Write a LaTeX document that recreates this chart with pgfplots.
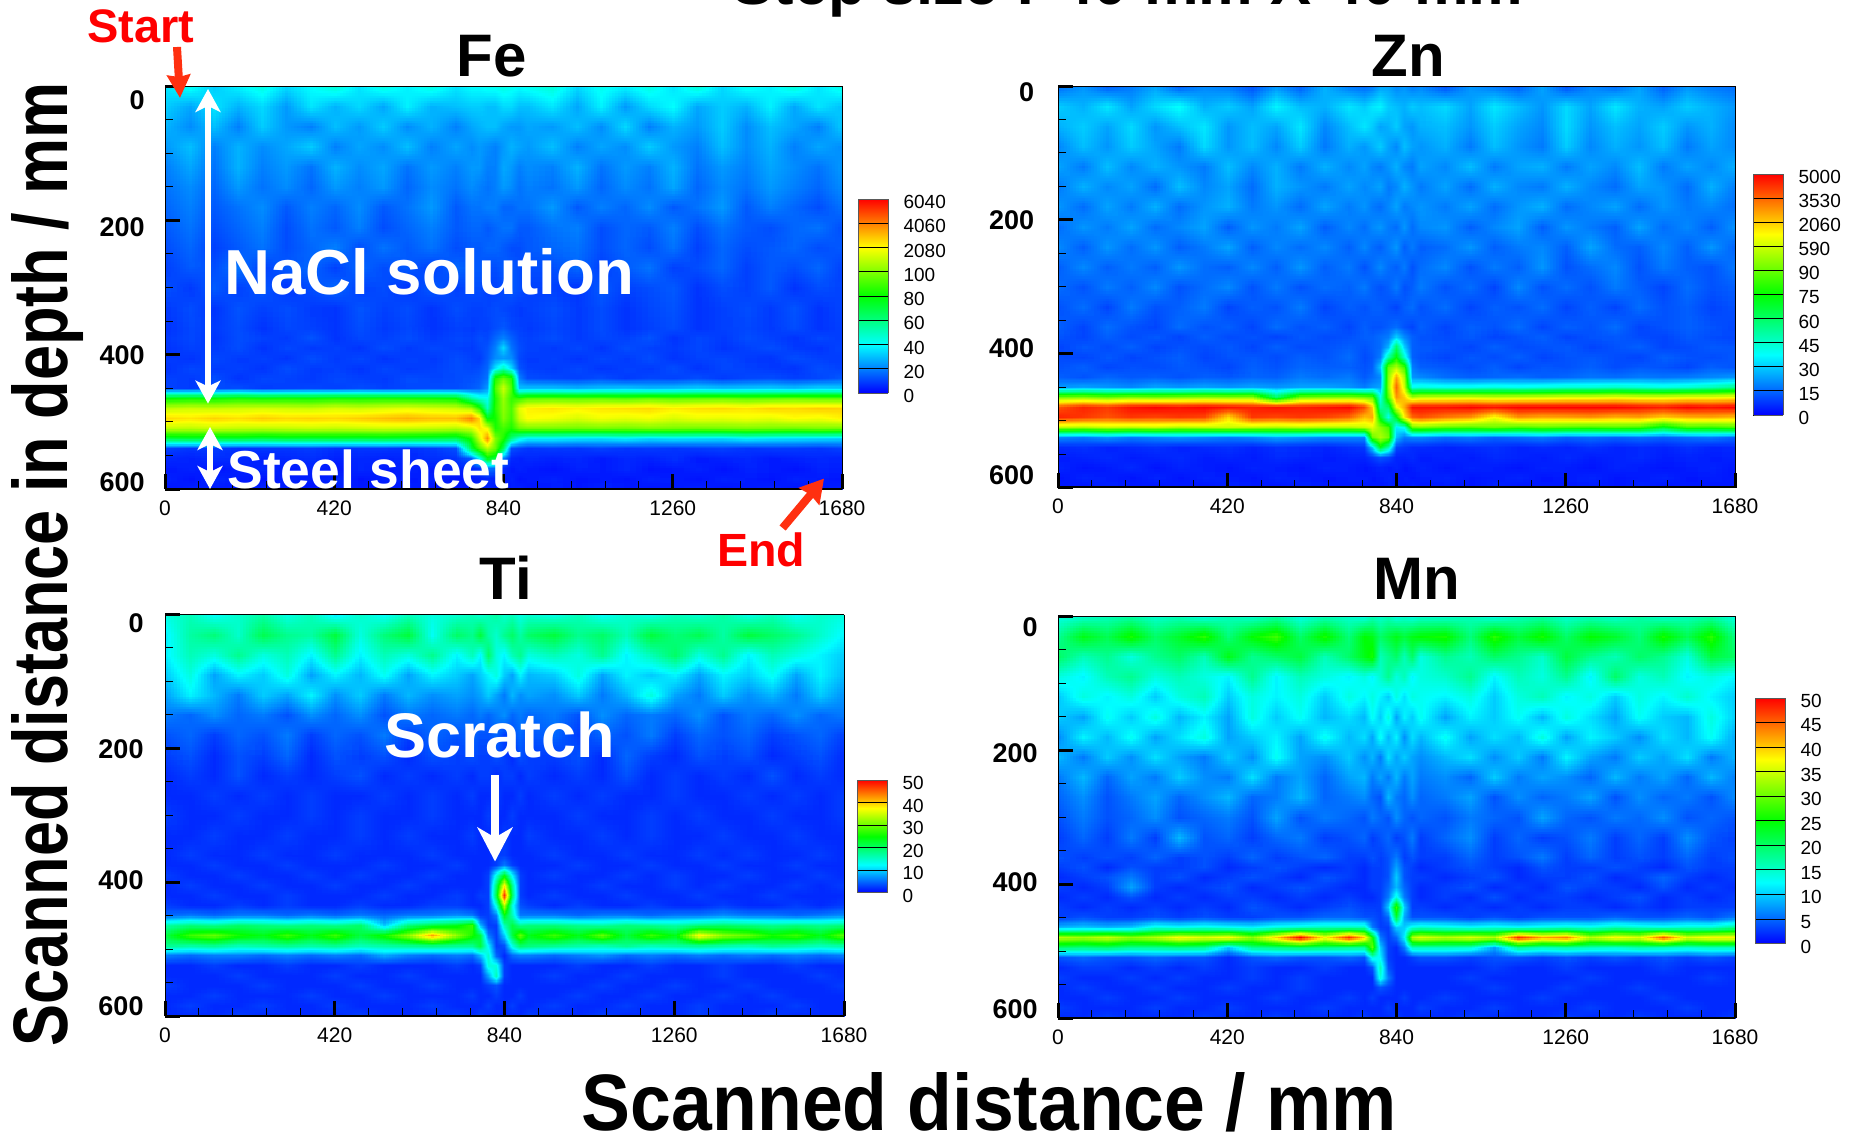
\documentclass[border=0pt]{standalone}
\usepackage{pgfplots}
\pgfplotsset{compat=1.18}
\usepgfplotslibrary{patchplots}
\usepackage{pgfplotstable}
\usepackage{fontspec}
\setmainfont{Liberation Sans}
\usetikzlibrary{arrows.meta}
\newcommand\loadgrid[2]{%
  \gdef\gridtmp{}%
  \foreach \v in {#2}{\xdef\gridtmp{\unexpanded\expandafter{\gridtmp}\v\space 0\space 0\noexpand\\}}%
  \edef\gridcmd{\noexpand\pgfplotstableread[row sep=crcr,header=false]{\unexpanded\expandafter{\gridtmp}}\noexpand#1}%
  \gridcmd}
% Columns x: 0..720 by 60, 760..900 by 20, 960..1680 by 60. Rows y: 0..360 by 30, 375..600 by 15.
\loadgrid\Fe{%
36,42,32,38,44,34,40,46,36,44,38,44,36,40,40,42,42,44,42,40,42,46,34,42,38,44,36,46,34,42,38,46,36,44,%
32,26,36,28,34,24,36,28,34,26,38,28,30,32,32,30,30,34,34,30,30,36,26,38,24,34,40,26,32,28,38,26,36,30,%
28,22,30,20,32,24,20,30,24,32,22,28,20,26,28,30,30,26,24,24,26,24,30,22,34,20,28,24,32,22,30,26,20,32,%
24,30,20,28,22,26,32,20,26,22,30,20,26,22,24,22,20,24,28,26,24,30,20,26,22,32,24,20,30,22,28,20,26,22,%
20,26,18,28,20,24,18,28,22,26,18,24,20,24,24,20,20,26,24,20,22,20,28,18,24,20,28,18,24,20,26,22,18,24,%
18,22,16,24,18,22,16,24,20,24,16,22,18,22,20,18,20,24,22,18,20,18,24,16,22,18,26,16,22,18,24,20,16,22,%
16,20,14,18,22,14,20,16,22,14,18,24,14,18,18,20,20,16,16,18,18,24,14,20,16,22,14,18,24,14,20,16,12,18,%
14,18,12,16,20,12,18,14,20,12,16,20,14,16,16,14,16,18,18,14,14,18,20,12,16,14,20,12,18,14,12,16,18,12,%
12,16,10,14,18,12,16,20,12,18,14,18,12,14,14,16,16,14,12,12,14,16,18,12,16,12,18,10,16,12,14,16,12,14,%
10,14,12,18,10,14,16,10,16,12,14,10,16,14,14,12,12,14,14,12,12,12,16,10,14,18,10,12,16,10,14,12,16,10,%
12,9,14,10,14,8,12,16,10,12,8,14,10,12,12,10,10,12,14,12,10,10,8,14,10,12,14,8,12,10,14,8,12,10,%
9,12,8,13,10,12,9,8,13,10,12,8,12,10,10,11,12,11,10,9,10,12,9,12,8,11,13,8,10,12,9,13,8,11,%
8,11,9,12,8,11,10,8,12,9,11,8,10,9,10,10,12,14,11,10,9,11,9,12,8,10,12,8,10,11,9,12,8,10,%
9,11,8,12,10,9,13,8,11,10,12,9,11,10,12,11,16,20,15,11,10,12,9,11,10,13,8,11,9,12,10,8,11,9,%
8,10,9,12,8,11,9,10,8,12,9,11,10,9,11,13,20,34,18,12,10,9,11,8,12,10,9,11,8,10,12,9,8,11,%
9,8,11,9,10,8,12,9,11,8,10,9,12,10,9,14,22,24,22,11,9,10,8,11,9,12,8,10,11,9,8,12,10,9,%
8,11,9,10,8,12,9,10,8,11,9,10,12,11,12,16,36,50,34,13,10,9,11,8,10,9,12,8,11,10,9,8,12,10,%
10,9,12,8,11,10,9,11,10,9,12,11,12,13,14,18,84,96,86,20,12,11,10,12,9,11,10,12,9,11,12,10,11,14,%
10,9,11,12,9,10,11,10,12,10,11,12,12,14,16,24,92,112,92,30,30,30,28,30,31,29,30,32,30,31,32,30,33,32,%
80,82,81,84,82,83,82,84,83,84,83,82,80,56,46,42,84,104,88,88,94,95,94,95,93,96,94,95,96,94,95,97,95,95,%
110,112,111,112,113,112,111,114,112,114,116,114,112,106,86,50,86,102,92,116,122,124,122,124,125,126,123,125,126,124,127,126,128,127,%
126,124,127,125,128,126,127,126,128,130,132,130,130,140,126,78,82,100,90,112,120,118,114,118,116,118,114,117,116,118,116,120,118,122,%
110,109,111,110,109,110,111,110,111,112,111,110,108,112,124,118,84,90,84,96,98,98,97,98,97,99,98,97,98,99,98,97,99,98,%
70,72,71,72,70,72,71,72,71,72,71,70,68,84,112,138,100,84,60,44,38,38,36,35,38,34,36,35,34,38,36,35,34,33,%
10,8,9,7,8,8,9,7,8,8,7,9,12,70,92,108,96,66,12,10,8,9,8,10,8,9,8,9,10,8,9,9,8,10,%
6,5,7,6,5,6,7,5,6,5,6,7,8,14,40,76,70,20,6,5,6,5,6,4,6,5,7,4,5,6,4,5,6,5,%
4,5,3,5,6,4,5,3,6,4,5,4,5,6,8,18,16,6,4,5,4,3,5,4,6,3,4,5,3,5,4,3,5,4,%
5,3,6,4,3,5,4,6,3,5,4,5,3,4,5,6,5,4,5,3,4,5,3,4,3,5,4,3,5,4,3,5,4,3,%
3,5,4,3,6,4,3,5,4,3,5,3,4,3,4,5,4,3,4,5,3,4,3,5,4,3,4,5,3,4,5,3,4,5}
\loadgrid\Zn{%
16,22,14,18,24,14,20,18,12,22,14,26,18,16,18,24,24,20,22,18,20,12,22,18,14,24,12,20,16,24,14,22,18,16,%
30,26,34,24,32,38,26,30,24,36,28,26,34,30,34,36,30,28,26,30,28,32,24,34,28,22,32,24,34,26,24,30,26,22,%
26,30,24,32,22,28,34,22,28,24,34,20,28,34,30,24,26,30,24,22,26,28,22,30,24,20,32,22,28,24,30,22,26,20,%
20,28,22,30,24,18,32,22,28,20,30,18,26,22,26,30,24,20,28,24,22,26,18,28,22,18,30,20,26,22,28,18,24,20,%
24,18,28,20,26,22,18,28,20,26,18,26,20,24,20,18,22,26,20,18,24,20,28,18,24,26,18,24,20,28,18,24,20,26,%
18,26,20,24,16,28,20,24,16,26,22,18,24,20,22,24,18,20,26,22,18,24,16,26,20,18,26,20,16,24,22,16,26,18,%
22,16,24,18,26,16,22,26,18,22,16,24,18,22,18,16,20,24,18,20,22,18,24,16,22,26,16,20,24,16,22,18,20,16,%
16,22,18,24,16,20,24,14,22,18,24,14,20,16,20,22,18,16,22,16,20,22,14,20,24,14,22,18,14,24,16,20,14,22,%
20,14,22,16,22,14,18,24,14,20,16,20,14,20,16,14,18,22,14,18,14,16,22,14,18,20,14,24,16,14,20,14,22,14,%
14,20,14,18,14,22,16,14,20,14,22,14,18,12,16,20,16,14,18,12,16,20,12,18,14,22,12,16,20,12,18,14,12,18,%
16,12,18,14,20,12,16,20,12,18,12,16,14,18,14,12,14,18,12,14,18,12,16,10,20,12,16,12,18,14,10,16,12,14,%
12,16,10,18,12,14,18,10,14,12,18,10,14,12,14,14,12,10,14,16,12,16,10,14,12,16,10,14,10,16,12,14,10,12,%
14,10,16,12,10,16,12,14,10,16,12,14,10,14,12,12,14,16,12,10,14,10,14,12,16,10,14,12,16,10,12,14,12,10,%
12,10,14,11,13,10,14,11,12,10,13,11,12,14,14,16,18,30,20,14,12,11,13,10,12,14,10,12,13,11,10,13,11,10,%
10,13,11,14,10,12,11,13,10,14,11,12,14,12,14,16,26,60,30,14,13,12,10,14,11,12,13,10,12,14,10,11,13,12,%
11,10,13,10,12,14,10,12,13,11,14,12,16,11,13,18,50,75,44,14,12,10,13,11,14,10,12,13,11,10,14,12,11,13,%
12,14,10,12,11,13,12,10,14,12,15,14,14,12,14,30,90,100,84,18,14,13,11,14,10,13,12,14,11,13,12,10,14,12,%
14,12,15,13,14,12,14,13,15,14,18,16,18,13,16,20,95,125,100,22,20,16,14,15,16,14,15,17,16,18,17,18,20,22,%
22,24,22,20,24,22,24,22,24,22,24,24,22,18,22,24,96,135,105,40,42,40,40,42,40,42,44,44,46,44,42,44,48,54,%
92,94,90,94,92,94,96,95,96,60,92,94,95,92,88,40,88,128,120,100,104,105,106,104,105,106,108,108,110,108,108,110,110,112,%
138,145,142,148,150,148,150,148,146,148,146,148,150,140,120,50,60,110,125,148,148,148,150,148,150,150,150,150,150,148,146,150,148,150,%
145,142,138,142,140,142,140,118,142,140,142,140,135,122,125,70,40,72,115,135,138,132,128,112,128,125,126,128,124,126,120,124,125,122,%
102,100,104,102,104,100,102,104,102,100,102,100,100,104,108,95,85,35,40,90,92,88,86,90,85,88,86,84,86,84,70,84,82,86,%
20,18,22,18,20,22,20,18,20,24,22,20,20,20,90,100,92,28,18,20,20,16,18,14,16,18,14,16,14,16,14,16,18,14,%
6,7,5,6,7,5,6,7,5,7,6,5,7,8,30,72,50,10,8,6,6,5,6,7,5,6,5,7,5,6,5,7,5,6,%
4,5,6,4,5,6,4,5,4,6,5,4,5,5,8,12,10,5,5,6,4,5,4,6,5,4,6,4,5,6,4,5,4,5,%
5,3,4,6,3,5,4,3,5,4,3,5,4,3,4,5,4,5,3,4,5,3,5,4,3,5,4,3,5,4,3,4,5,3,%
3,5,4,3,5,3,5,4,3,5,4,3,4,4,3,4,5,3,4,3,4,5,3,4,5,3,4,5,3,4,5,3,4,3,%
4,3,5,4,3,4,3,5,4,3,5,4,3,3,4,3,4,4,3,5,3,4,3,5,3,4,3,4,3,5,3,4,3,4}
\loadgrid\Ti{%
14,16,13,15,17,14,16,12,15,13,16,14,15,16,15,16,17,15,16,14,15,14,16,13,15,14,16,15,17,14,16,13,15,14,%
12,17,19,15,21,18,17,22,14,19,22,13,20,18,22,17,15,18,20,17,20,22,18,20,16,22,19,21,17,22,20,18,15,12,%
12,16,14,18,14,16,12,18,12,16,14,18,12,16,12,20,14,12,16,18,14,16,14,18,12,16,20,14,18,12,16,14,12,10,%
10,14,8,12,10,14,8,12,9,13,8,12,10,8,10,12,14,10,8,12,9,10,14,8,12,10,12,8,12,10,13,8,12,9,%
8,12,9,6,10,8,12,7,10,6,9,7,8,7,8,10,8,6,9,7,8,7,10,6,9,14,8,6,10,7,9,6,10,7,%
6,5,7,5,6,4,7,5,7,4,6,5,6,5,6,5,6,7,5,6,5,6,4,7,5,6,5,7,4,6,5,7,5,6,%
4,5,3,5,4,6,3,5,4,6,3,5,4,5,4,4,5,3,4,5,4,5,3,5,4,6,3,5,4,5,3,4,5,3,%
3,4,2,4,3,5,2,4,3,4,2,4,3,4,3,3,4,3,2,4,3,3,4,2,5,3,2,4,3,4,2,3,4,2,%
2,3,2,4,2,3,2,3,4,2,3,2,3,2,3,3,2,3,3,2,3,2,3,2,4,2,3,2,3,2,4,2,3,2,%
2,2,3,2,3,2,3,2,2,3,2,3,2,3,2,2,3,2,2,3,2,3,2,3,2,2,3,2,2,3,2,3,2,3,%
3,2,2,3,2,2,3,2,3,2,2,3,2,2,2,3,2,2,3,2,2,2,3,2,2,3,2,3,2,2,3,2,2,3,%
2,2,3,2,2,3,2,2,3,2,3,2,2,3,2,2,2,3,2,2,3,2,2,3,2,3,2,2,3,2,2,3,2,2,%
2,3,2,2,3,2,2,3,2,2,2,3,2,2,2,2,3,3,2,2,2,3,2,2,3,2,2,3,2,3,2,2,3,2,%
2,2,3,2,2,3,2,2,2,3,2,2,3,2,2,2,3,6,3,2,2,2,3,2,2,3,2,2,3,2,2,3,2,2,%
3,2,2,3,2,2,3,2,3,2,2,3,2,2,2,3,14,24,12,3,2,3,2,2,3,2,3,2,2,3,2,2,3,2,%
2,3,2,2,3,2,2,3,2,2,3,2,2,2,2,3,20,38,18,3,2,2,2,3,2,2,3,2,3,2,2,3,2,3,%
2,2,3,2,2,3,2,2,2,3,2,2,3,2,3,3,22,48,20,3,2,3,2,2,3,2,2,3,2,2,3,2,2,2,%
3,2,2,3,2,3,2,2,3,2,2,3,3,2,2,3,14,34,14,4,3,2,3,2,2,3,2,2,3,2,2,3,2,3,%
5,6,5,6,6,5,6,5,6,5,6,6,7,6,3,3,6,24,16,6,6,6,5,6,6,5,6,6,7,6,6,5,6,7,%
17,19,18,20,19,18,19,18,20,10,19,22,24,28,9,3,3,16,22,18,19,19,18,17,19,18,17,19,20,19,18,19,18,19,%
22,28,30,26,24,28,24,28,22,26,32,42,32,26,22,6,3,10,22,30,24,28,24,30,22,28,24,38,32,30,26,28,24,30,%
18,17,18,16,17,18,17,18,16,17,18,19,18,18,22,12,3,4,14,20,19,18,17,16,18,16,17,18,17,16,18,17,16,17,%
6,5,6,6,5,6,5,6,5,8,6,5,6,5,9,15,5,2,5,6,6,5,6,7,5,6,5,6,5,6,5,6,5,6,%
2,2,3,2,2,3,2,2,3,2,2,2,3,2,3,14,14,3,2,2,2,2,3,2,2,3,2,2,3,2,2,3,2,2,%
2,2,2,3,2,2,2,3,2,2,3,2,2,2,2,8,16,3,2,2,2,3,2,2,3,2,2,2,3,2,2,2,3,2,%
3,2,2,2,3,2,2,2,3,2,2,3,2,2,2,3,4,2,2,2,2,2,2,3,2,2,3,2,2,3,2,2,2,3,%
2,2,3,2,2,2,3,2,2,3,2,2,2,3,2,2,3,2,2,3,2,2,3,2,2,3,2,2,3,2,3,2,2,2,%
2,3,2,2,3,2,2,3,2,2,2,3,2,2,2,3,2,2,3,2,2,3,2,2,3,2,2,3,2,2,2,3,2,2,%
2,2,2,3,2,2,2,2,3,2,2,2,3,2,3,2,2,2,2,2,3,2,2,3,2,2,2,3,2,2,3,2,2,2}
\loadgrid\Mn{%
14,15,16,17,15,16,14,16,15,17,14,16,15,14,16,15,16,14,15,14,15,15,16,14,16,17,15,16,15,17,15,16,17,14,%
18,24,21,26,20,23,27,19,25,28,20,26,19,25,24,20,22,24,22,24,25,26,19,27,22,26,20,25,23,19,26,21,27,18,%
20,16,18,14,18,20,16,24,18,20,22,16,20,24,26,16,18,20,16,20,14,18,16,20,18,15,22,18,16,20,18,14,22,20,%
14,12,16,18,14,16,14,12,18,12,16,14,12,14,12,15,18,14,16,12,14,15,18,12,16,14,18,12,20,14,16,12,14,12,%
10,14,12,14,10,14,16,10,14,12,14,10,14,12,14,12,10,14,11,14,13,12,14,10,14,16,12,14,10,14,12,15,12,10,%
10,8,13,10,14,9,12,8,14,10,13,9,11,9,13,10,14,8,12,10,13,8,12,10,13,9,14,11,8,13,10,9,14,10,%
7,12,9,13,8,11,14,8,10,12,8,13,9,11,8,13,9,12,7,11,9,13,8,11,9,14,8,12,10,7,11,9,13,8,%
9,6,10,7,11,8,6,10,7,13,8,7,10,7,9,6,11,8,10,8,7,9,11,7,10,6,12,8,6,10,8,11,6,9,%
6,9,5,8,6,10,7,6,11,6,8,5,8,9,6,8,6,9,6,8,6,7,5,10,6,8,7,5,9,6,8,5,9,6,%
5,7,4,6,8,5,7,9,5,6,9,5,6,7,5,4,9,6,5,7,5,6,8,4,7,5,6,8,4,7,5,6,4,7,%
4,6,4,5,7,4,5,6,4,8,4,6,5,4,6,5,4,7,5,4,5,4,6,5,4,8,5,4,6,5,7,4,5,4,%
3,5,3,6,3,9,4,5,3,5,6,3,4,5,3,4,5,3,4,6,3,5,7,3,5,3,4,6,3,5,3,7,4,3,%
4,3,4,3,5,3,4,3,5,3,4,5,3,3,4,3,4,6,3,4,3,3,5,3,4,6,3,5,3,4,3,5,3,4,%
3,4,2,4,3,3,4,2,3,4,3,2,3,2,3,3,4,8,4,3,2,3,4,3,2,4,3,3,4,3,2,4,3,3,%
2,3,4,6,3,4,2,3,4,3,2,4,3,2,3,3,4,10,4,3,3,2,3,4,2,3,3,4,2,3,5,3,2,3,%
3,2,3,8,3,2,3,4,2,3,4,3,2,2,3,3,5,9,5,3,2,3,4,2,3,2,4,3,3,2,4,2,3,2,%
2,3,2,4,2,3,2,3,3,2,3,2,3,2,2,3,6,14,6,3,2,3,2,4,2,3,3,2,3,4,2,3,2,3,%
3,2,3,2,3,2,3,2,4,3,2,3,4,3,3,3,10,28,10,3,3,2,3,2,3,2,3,3,2,3,2,3,3,3,%
3,4,3,3,4,3,4,3,3,4,4,5,5,4,4,3,5,22,8,4,4,4,3,4,3,4,4,4,5,4,4,5,4,6,%
9,10,9,10,14,13,14,13,12,14,15,16,16,16,6,3,3,10,10,14,15,14,13,14,13,14,15,14,16,15,14,15,15,18,%
34,33,35,32,34,38,36,38,32,40,50,38,48,40,26,6,3,5,12,34,36,34,36,34,48,42,44,34,38,36,46,36,38,38,%
20,19,20,18,18,19,18,10,18,19,20,19,18,18,30,10,3,2,6,16,16,16,15,8,18,16,17,16,15,17,16,15,16,16,%
4,5,4,4,5,4,4,2,4,5,4,4,5,4,14,12,3,2,2,3,4,4,3,4,4,3,4,3,4,3,4,3,4,3,%
2,3,3,2,3,2,3,2,3,2,2,3,2,2,4,16,4,2,2,2,2,2,2,3,2,2,3,2,2,2,3,2,2,2,%
3,2,2,3,2,3,2,2,3,2,3,2,2,2,2,14,6,2,2,2,2,2,3,2,2,2,2,3,2,2,2,2,3,2,%
2,3,2,2,3,2,2,3,2,2,3,2,2,2,2,4,3,2,2,2,2,2,2,3,2,2,3,2,2,3,2,2,2,2,%
2,2,3,2,2,3,2,2,2,3,2,2,3,2,3,2,2,2,3,2,2,3,2,2,2,3,2,2,2,2,3,2,2,2,%
3,2,2,2,3,2,2,3,2,2,2,3,2,2,2,2,3,2,2,2,3,2,2,3,2,2,2,3,2,2,2,3,2,2,%
2,2,3,2,2,2,3,2,2,3,2,2,2,3,2,2,2,3,2,2,2,2,3,2,2,2,3,2,2,3,2,2,2,3}
\newcommand\yl[2]{\raisebox{#1pt}[0pt][0pt]{#2}}
\newcommand\gridplot[1]{\addplot3[surf,shader=interp,patch type=bilinear,mesh/cols=34] table[x expr={gx(mod(\coordindex,34))},y expr={gy(floor((\coordindex+0.5)/34))},z index=0]{#1};}
\pgfplotsset{tecmap/.style={colormap={tec}{rgb255=(0,0,255) rgb255=(0,255,255) rgb255=(0,255,0) rgb255=(255,255,0) rgb255=(255,0,0)}},
 panel/.style={tecmap,
  scale only axis,axis on top,view={0}{90},y dir=reverse,
  xmin=0,xmax=1680,ymin=0,ymax=600,
  xtick={0,420,840,1260,1680},xticklabels={0,420,840,1260,1680},minor x tick num=4,
  ytick={0,200,400,600},minor y tick num=3,
  xtick pos=bottom,ytick pos=left,tick align=inside,
  major tick length=7.5pt,minor tick length=4pt,
  major tick style={line width=1.5pt,black},minor tick style={line width=.5pt,black},
  axis line style={line width=.5pt},
  xticklabel style={font=\fontsize{10.5}{10.5}\selectfont,yshift=-2.2pt},
  yticklabel style={font=\fontsize{13.5}{13.5}\selectfont\bfseries,anchor=east,xshift=-9pt},
 },
 cbaxis/.style={tecmap,
  scale only axis,axis on top,anchor=south west,view={0}{90},
  xmin=0,xmax=1,xtick=\empty,
  ytick pos=right,yticklabel pos=right,
  tick align=inside,major tick length=15pt,
  major tick style={line width=.4pt,black},
  axis line style={line width=.4pt,gray!70!black},
  yticklabel style={font=\fontsize{9.5}{9.5}\selectfont,anchor=west,xshift=4.25pt,yshift=-1.5pt},
 }}
\newcommand\frameaxis{\draw[line width=1.5pt] (axis cs:0,600)--(axis cs:1680,600);\draw[line width=1pt] (axis cs:0,0)--(axis cs:0,600);}
\begin{document}
\begin{tikzpicture}[declare function={gx(\i)=(\i<13)*60*\i+(\i>=13)*(\i<21)*(760+20*(\i-13))+(\i>=21)*(900+60*(\i-20));gy(\j)=(\j<13)*30*\j+(\j>=13)*(360+15*(\j-12));}]
\useasboundingbox (0,0) rectangle (926pt,565.5pt);
\begin{axis}[panel,at={(82.5pt,321pt)},anchor=south west,width=338.5pt,height=201.5pt,
  yticklabel style={xshift=2.4pt},
  yticklabels={\yl{-11.5}{0},\yl{-8}{200},\yl{-4.75}{400},\yl{-1.25}{600}},
  point meta min=0,point meta max=160]
\gridplot{\Fe}\frameaxis
\end{axis}
\begin{axis}[cbaxis,at={(429pt,369pt)},width=15pt,height=97pt,ymin=0,ymax=160,
    ytick={0,20,...,160},yticklabels={0,20,40,60,80,100,2080,4060,6040}]
\addplot3[surf,shader=interp,mesh/cols=2] coordinates {(0,0,0) (1,0,0) (0,160,160) (1,160,160)};
\end{axis}
\begin{axis}[panel,at={(529pt,321.75pt)},anchor=south west,width=338.5pt,height=200.75pt,
  yticklabel style={xshift=.6pt},
  yticklabels={\yl{-7.5}{0},\yl{-4.75}{200},\yl{-1.75}{400},\yl{1.5}{600}},
  point meta min=0,point meta max=150]
\gridplot{\Zn}\frameaxis
\end{axis}
\begin{axis}[cbaxis,at={(876.75pt,358pt)},width=14.75pt,height=120.5pt,ymin=0,ymax=150,
    ytick={0,15,...,150},yticklabels={0,15,30,45,60,75,90,590,2060,3530,5000}]
\addplot3[surf,shader=interp,mesh/cols=2] coordinates {(0,0,0) (1,0,0) (0,150,150) (1,150,150)};
\end{axis}
\begin{axis}[panel,at={(82.5pt,57.5pt)},anchor=south west,width=339.5pt,height=200.75pt,
  yticklabel style={xshift=1.8pt},
  yticklabels={\yl{-8.75}{0},\yl{-5.25}{200},\yl{-3.75}{400},\yl{0.25}{600}},
  point meta min=0,point meta max=50]
\gridplot{\Ti}\frameaxis
\end{axis}
\begin{axis}[cbaxis,at={(428.5pt,119.25pt)},width=15pt,height=56.25pt,ymin=0,ymax=50,
    ytick={0,10,...,50},yticklabels={0,10,20,30,40,50}]
\addplot3[surf,shader=interp,mesh/cols=2] coordinates {(0,0,0) (1,0,0) (0,50,50) (1,50,50)};
\end{axis}
\begin{axis}[panel,at={(529pt,56.5pt)},anchor=south west,width=338.5pt,height=201pt,
  yticklabel style={xshift=2.4pt},
  yticklabels={\yl{-10}{0},\yl{-6.25}{200},\yl{-3.75}{400},\yl{0}{600}},
  point meta min=0,point meta max=50]
\gridplot{\Mn}\frameaxis
\end{axis}
\begin{axis}[cbaxis,at={(877.5pt,93.75pt)},width=15pt,height=122.75pt,ymin=0,ymax=50,
    ytick={0,5,...,50},yticklabels={0,5,10,15,20,25,30,35,40,45,50}]
\addplot3[surf,shader=interp,mesh/cols=2] coordinates {(0,0,0) (1,0,0) (0,50,50) (1,50,50)};
\end{axis}
\newcommand\tbf[1]{\fontsize{#1}{#1}\selectfont\bfseries}
\node[anchor=base,inner sep=0] at (564pt,563pt) {\tbf{30.7}Step size : 40 mm X 40 mm};
\node[anchor=base,inner sep=0] at (246pt,527pt) {\tbf{30}Fe};
\node[anchor=base,inner sep=0] at (704pt,527pt) {\tbf{30}Zn};
\node[anchor=base,inner sep=0] at (253pt,265.5pt) {\tbf{30}Ti};
\node[anchor=base,inner sep=0] at (708.5pt,265.5pt) {\tbf{30}Mn};
\node[anchor=center,inner sep=0] at (494.75pt,14.5pt) {\resizebox{407.5pt}{29pt}{\bfseries Scanned distance / mm}};
\node[anchor=center,inner sep=0,rotate=90] at (24pt,283.25pt) {\resizebox{481.5pt}{28pt}{\bfseries Scanned distance in depth / mm}};
\node[anchor=base west,inner sep=0,text=white] at (112pt,418pt) {\tbf{31.8}NaCl solution};
\node[anchor=base west,inner sep=0,text=white] at (113.5pt,321pt) {\tbf{26.7}Steel sheet};
\node[anchor=base west,inner sep=0,text=white] at (192pt,186.65pt) {\tbf{31.5}Scratch};
\node[anchor=base west,inner sep=0,text=red] at (43.5pt,544pt) {\tbf{23.5}Start};
\node[anchor=base west,inner sep=0,text=red] at (358.5pt,282.2pt) {\tbf{23.3}End};
\definecolor{arr}{RGB}{255,48,16}
\draw[arr,line width=4pt,-{Stealth[length=11.5pt,width=11.5pt,inset=1pt]}] (88.5pt,542pt)--(90pt,516.5pt);
\draw[arr,line width=4pt,-{Stealth[length=11.5pt,width=13pt,inset=1pt]}] (391.3pt,301.5pt)--(412pt,326.2pt);
\draw[white,line width=2.8pt,{Stealth[length=11.5pt,width=12.5pt,inset=3pt]}-{Stealth[length=11.5pt,width=12.5pt,inset=3pt]}] (104pt,521pt)--(104pt,363.7pt);
\draw[white,line width=2.8pt,{Stealth[length=11.5pt,width=12.5pt,inset=3pt]}-{Stealth[length=11.5pt,width=12.5pt,inset=3pt]}] (105pt,352pt)--(105pt,321pt);
\draw[white,line width=4pt,-{Stealth[length=17pt,width=17.5pt,inset=5pt]}] (247.5pt,178pt)--(247.5pt,134.75pt);
\end{tikzpicture}
\end{document}
